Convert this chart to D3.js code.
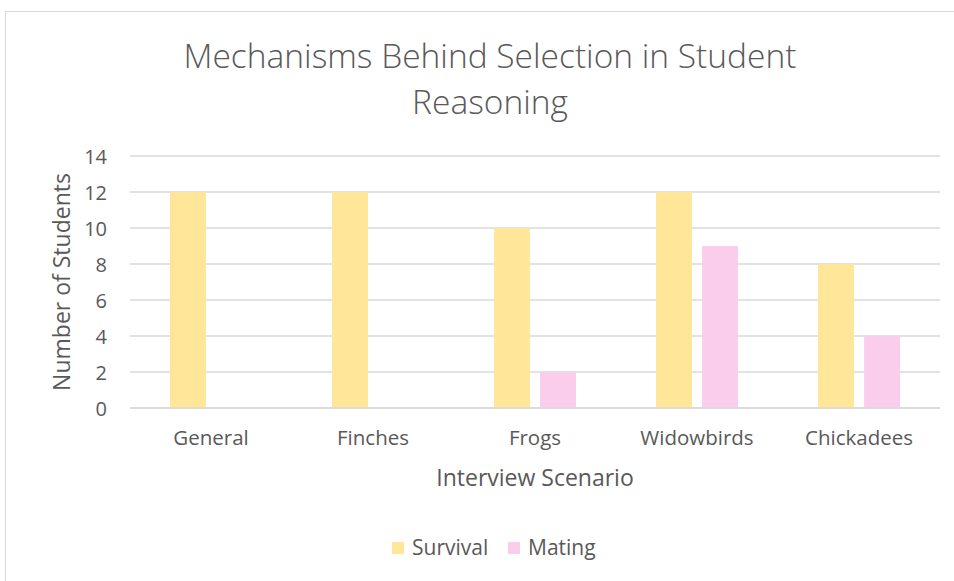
<!DOCTYPE html>
<html>
<head>
<meta charset="utf-8">
<script src="https://cdn.jsdelivr.net/npm/d3@7"></script>
<style>
  body { margin: 0; background: #fff; }
  text { font-family: "Open Sans", "Noto Sans", sans-serif; fill: #595959; }
</style>
</head>
<body>
<svg id="chart" width="954" height="581"></svg>
<script>
// chart data
var scenarios = ["General", "Finches", "Frogs", "Widowbirds", "Chickadees"];
var seriesNames = ["Survival", "Mating"];
var survival = [12, 12, 10, 12, 8];
var mating = [0, 0, 2, 9, 4];
var yTicks = [0, 2, 4, 6, 8, 10, 12, 14];
var colors = ["#FFE699", "#FACDEC"];

var svg = d3.select("#chart");
var W = +svg.attr("width"), H = +svg.attr("height");

// outer chart border
svg.append("rect")
    .attr("x", 5.5).attr("y", 11.5)
    .attr("width", W).attr("height", H)
    .attr("fill", "#fff")
    .attr("stroke", "#d9d9d9");

var plot = { left: 130, right: 940, top: 156, bottom: 408 };

var x = d3.scaleBand().domain(scenarios).range([plot.left, plot.right]);
var x1 = d3.scaleBand().domain(seriesNames).range([0, 82]).paddingInner(0.22);
var y = d3.scaleLinear().domain([0, 14]).range([plot.bottom, plot.top]);

// gridlines
svg.append("g")
  .selectAll("line")
  .data(yTicks)
  .enter().append("line")
    .attr("x1", plot.left).attr("x2", plot.right)
    .attr("y1", function(d) { return y(d); })
    .attr("y2", function(d) { return y(d); })
    .attr("stroke", "#d9d9d9")
    .attr("stroke-width", 1.5);

// bars
var rows = scenarios.map(function(s, i) {
    return { scenario: s, values: [survival[i], mating[i]] };
});

var groups = svg.append("g")
  .selectAll("g")
  .data(rows)
  .enter().append("g")
    .attr("transform", function(d) {
        return "translate(" + (x(d.scenario) + x.bandwidth() / 2 - 41) + ",0)";
    });

groups.selectAll("rect")
  .data(function(d) { return d.values.map(function(v, j) { return { name: seriesNames[j], value: v, c: colors[j] }; }); })
  .enter().append("rect")
    .attr("x", function(d) { return x1(d.name); })
    .attr("width", x1.bandwidth())
    .attr("y", function(d) { return y(d.value); })
    .attr("height", function(d) { return y(0) - y(d.value); })
    .attr("fill", function(d) { return d.c; });

// baseline redrawn over bars
svg.append("line")
    .attr("x1", plot.left).attr("x2", plot.right)
    .attr("y1", y(0)).attr("y2", y(0))
    .attr("stroke", "#d9d9d9").attr("stroke-width", 1.5);

// y axis
var yAxis = svg.append("g")
    .attr("transform", "translate(" + (plot.left - 23) + ",0)")
    .call(d3.axisLeft(y).tickValues(yTicks).tickSize(0).tickPadding(0));
yAxis.select(".domain").remove();
yAxis.selectAll("text").style("font-size", "20px").attr("fill", "#595959").attr("dy", "0.35em");

// x axis
var xAxis = svg.append("g")
    .attr("transform", "translate(0," + plot.bottom + ")")
    .call(d3.axisBottom(x).tickSize(0));
xAxis.select(".domain").remove();
xAxis.selectAll("text")
    .attr("y", 37).attr("dy", 0)
    .style("font-size", "20.5px").attr("fill", "#595959");

// axis titles
svg.append("text")
    .attr("transform", "translate(70,282) rotate(-90)")
    .attr("text-anchor", "middle")
    .style("font-size", "23px")
    .text("Number of Students");

svg.append("text")
    .attr("x", 535).attr("y", 486)
    .attr("text-anchor", "middle")
    .style("font-size", "23px")
    .text("Interview Scenario");

// title
var titleLines = ["Mechanisms Behind Selection in Student", "Reasoning"];
svg.append("g")
  .selectAll("text")
  .data(titleLines)
  .enter().append("text")
    .attr("x", 490)
    .attr("y", function(d, i) { return 68 + i * 46; })
    .attr("text-anchor", "middle")
    .style("font-size", "33.5px")
    .style("font-weight", "300")
    .text(function(d) { return d; });

// legend
var legend = svg.append("g")
  .selectAll("g")
  .data(seriesNames)
  .enter().append("g")
    .attr("transform", function(d, i) { return "translate(" + [392, 508][i] + ",542)"; });
legend.append("rect")
    .attr("width", 12).attr("height", 12)
    .attr("fill", function(d, i) { return colors[i]; });
legend.append("text")
    .attr("x", 20).attr("y", 6).attr("dy", "0.35em")
    .style("font-size", "21px")
    .text(function(d) { return d; });
</script>
</body>
</html>
